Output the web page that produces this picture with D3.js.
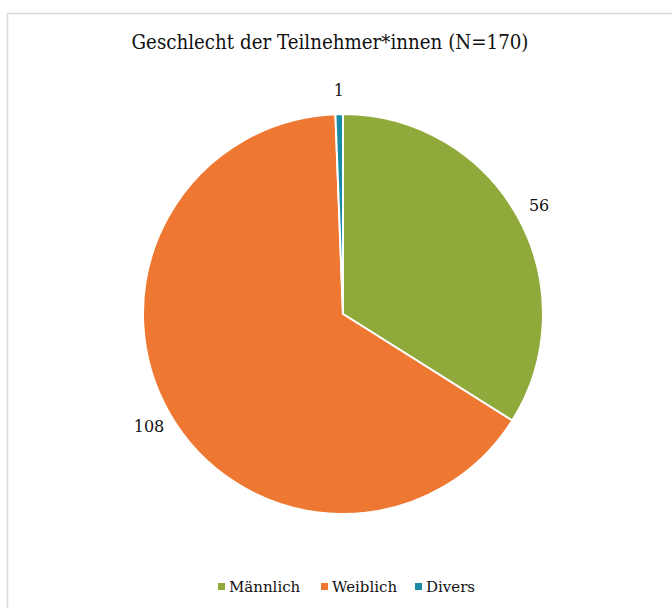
<!DOCTYPE html>
<html>
<head>
<meta charset="utf-8">
<script src="https://cdn.jsdelivr.net/npm/d3@7"></script>
<style>
  body { margin: 0; background: #fff; }
  text { font-family: "DejaVu Serif"; }
</style>
</head>
<body>
<svg id="chart" width="672" height="608"></svg>
<script>
const TITLE      = "Geschlecht der Teilnehmer*innen (N=170)"
const CATEGORIES = ["Männlich", "Weiblich", "Divers"]
const VALUES     = [56, 108, 1]
const COLORS     = ["#8fa93b", "#ee7831", "#1a8ba6"]

const CX = 343, CY = 314, RADIUS = 200

const svg = d3.select("#chart");

// chart frame (extends past the right/bottom edge like the screenshot)
svg.append("rect")
    .attr("x", 7.5).attr("y", 13.5)
    .attr("width", 700).attr("height", 700)
    .attr("fill", "none")
    .attr("stroke", "#d9d9d9")
    .attr("stroke-width", 1.5);

// title: DejaVu Serif is wider than Times, squeeze it to the original width
svg.append("text")
    .attr("x", 330).attr("y", 49)
    .attr("text-anchor", "middle")
    .attr("font-size", 21)
    .attr("textLength", 397)
    .attr("lengthAdjust", "spacingAndGlyphs")
    .attr("fill", "#111")
    .text(TITLE);

const color = d3.scaleOrdinal().domain(CATEGORIES).range(COLORS);

const pie = d3.pie().sort(null).value(d => d.value);
const data = CATEGORIES.map((c, i) => ({ name: c, value: VALUES[i] }));
const arcs = pie(data);

const arc = d3.arc().innerRadius(0).outerRadius(RADIUS);
const labelArc = d3.arc().innerRadius(RADIUS + 24).outerRadius(RADIUS + 24);

const g = svg.append("g").attr("transform", `translate(${CX},${CY})`);

g.selectAll("path")
    .data(arcs)
    .join("path")
    .attr("d", arc)
    .attr("fill", d => color(d.data.name))
    .attr("stroke", "#fff")
    .attr("stroke-width", 2)
    .attr("stroke-linejoin", "round");

g.selectAll("text.label")
    .data(arcs)
    .join("text")
    .attr("class", "label")
    .attr("transform", d => {
        const [x, y] = labelArc.centroid(d);
        return `translate(${x},${y})`;
    })
    .attr("text-anchor", "middle")
    .attr("dominant-baseline", "central")
    .attr("font-size", 16)
    .attr("fill", "#111")
    .text(d => d.data.value);

// legend
const legend = svg.append("g").attr("transform", "translate(0,587)");
const legendX = d3.scaleOrdinal().domain(CATEGORIES).range([218, 321, 415]);

const item = legend.selectAll("g")
    .data(CATEGORIES)
    .join("g")
    .attr("transform", d => `translate(${legendX(d)},0)`);

item.append("rect")
    .attr("x", 0).attr("y", -4)
    .attr("width", 7).attr("height", 7)
    .attr("fill", d => color(d));

item.append("text")
    .attr("x", 11).attr("y", 0)
    .attr("dominant-baseline", "central")
    .attr("font-size", 15)
    .attr("fill", "#111")
    .text(d => d);
</script>
</body>
</html>
